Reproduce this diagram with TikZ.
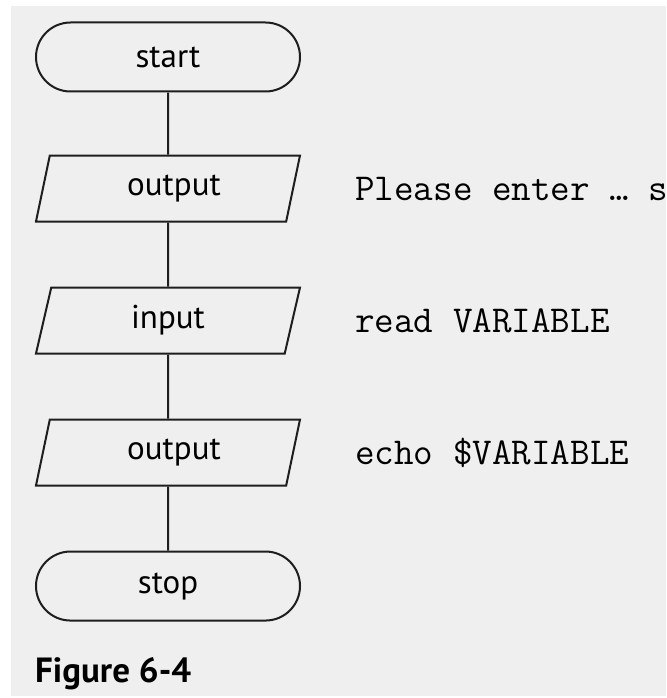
\documentclass[tikz,border=0pt]{standalone}
\usepackage{fontspec}
\setmainfont{PT Sans}
\usetikzlibrary{positioning,shapes.geometric,shapes.misc}
\definecolor{pagegray}{HTML}{EFEFEF}
\definecolor{ink}{HTML}{1E1E1E}
\tikzset{
  terminal/.style={rounded rectangle, draw=ink, line width=2pt, minimum width=264pt,
    minimum height=69pt, inner sep=0pt, font=\fontsize{33}{38}\selectfont},
  inout/.style={trapezium, trapezium left angle=63, trapezium right angle=117,
    trapezium stretches body, draw=ink, line width=2pt, minimum width=264pt,
    minimum height=66pt, inner sep=0pt, font=\fontsize{33}{38}\selectfont},
  code/.style={anchor=west, inner sep=0pt, font=\ttfamily\fontsize{38}{42}\selectfont},
  flow/.style={draw=ink, line width=2pt}
}
\begin{document}
\begin{tikzpicture}[x=1pt,y=-1pt,node distance=64pt]
  \clip (0,0) rectangle (666,698);
  \fill[white] (0,0) rectangle (666,698);
  \fill[pagegray] (11,6) rectangle (666,696);
  \coordinate (codecol) at (355,0);

  % flowchart
  \node[terminal] (start) at (168,57) {start};
  \node[inout, below=62pt of start] (out1) {\hspace*{12pt}output};
  \node[inout, below=of out1] (in1) {input};
  \node[inout, below=of in1] (out2) {\hspace*{12pt}output};
  \node[terminal, below=of out2] (stop) {stop};

  \draw[flow] (start) -- (out1);
  \draw[flow] (out1) -- (in1);
  \draw[flow] (in1) -- (out2);
  \draw[flow] (out2) -- (stop);

  % shell commands
  \node[code] (c1) at (codecol |- out1) {Please enter … s};
  \node[code] (c2) at (codecol |- in1) {read VARIABLE};
  \node[code] (c3) at (codecol |- out2) {echo \$VARIABLE};

  \node[anchor=base west, inner sep=0pt, font=\bfseries\fontsize{35}{40}\selectfont]
    (cap) at (35,682) {Figure 6-4};
\end{tikzpicture}
\end{document}
